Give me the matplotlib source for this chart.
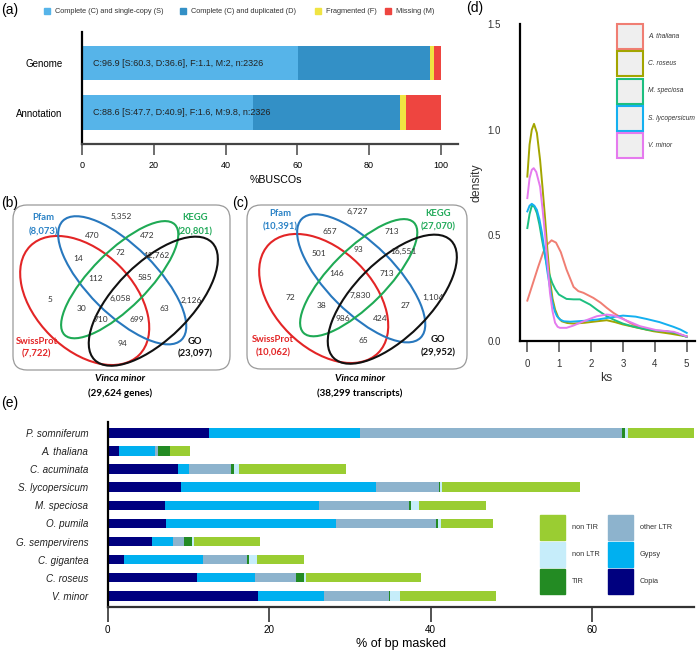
import matplotlib
matplotlib.use("Agg")
import matplotlib.pyplot as plt
from matplotlib.patches import Ellipse, FancyBboxPatch, Rectangle

plt.rcParams['font.family'] = ['Liberation Sans', 'DejaVu Sans']

# ---------------- data ----------------
# (a) BUSCO
busco_rows = ["Genome", "Annotation"]
busco_S = [60.3, 47.7]
busco_D = [36.6, 40.9]
busco_F = [1.1, 1.6]
busco_M = [2.0, 9.8]
busco_text = ["C:96.9 [S:60.3, D:36.6], F:1.1, M:2, n:2326",
              "C:88.6 [S:47.7, D:40.9], F:1.6, M:9.8, n:2326"]
busco_names = ["Complete (C) and single-copy (S)", "Complete (C) and duplicated (D)",
               "Fragmented (F)", "Missing (M)"]
busco_ticks = [0, 20, 40, 60, 80, 100]

# (b),(c) Venn
venn_sets = ["SwissProt", "Pfam", "KEGG", "GO"]
venn_b_totals = ["(7,722)", "(8,073)", "(20,801)", "(23,097)"]
venn_c_totals = ["(10,062)", "(10,391)", "(27,070)", "(29,952)"]
venn_regions = ["none", "P", "K", "SP", "PK", "KG", "SPK", "PKG", "S",
                "SPKG", "SK", "PG", "G", "SKG", "SPG", "SG"]
venn_b_counts = ["5,352", "470", "472", "14", "72", "12,762", "112", "585", "5",
                 "6,058", "30", "63", "2,126", "710", "699", "94"]
venn_c_counts = ["6,727", "657", "713", "501", "93", "16,551", "146", "713", "72",
                 "7,830", "38", "27", "1,104", "986", "424", "65"]
venn_b_title = ["Vinca minor", "(29,624 genes)"]
venn_c_title = ["Vinca minor", "(38,299 transcripts)"]

# (d) ks density
ks_species = ["A. thaliana", "C. roseus", "M. speciosa", "S. lycopersicum", "V. minor"]
ks_x = {
    "A. thaliana": [0, 0.17, 0.34, 0.5, 0.62, 0.76, 0.9, 1.05, 1.23, 1.45, 1.6, 1.76, 2.07, 2.3, 2.49, 2.7, 2.96, 3.25, 3.53, 3.8, 4.05, 4.4, 4.7, 5.0],
    "C. roseus": [0, 0.07, 0.14, 0.21, 0.3, 0.4, 0.48, 0.56, 0.63, 0.71, 0.79, 0.87, 0.97, 1.08, 1.25, 1.45, 1.8, 2.18, 2.49, 2.75, 3.0, 3.5, 3.95, 4.5, 5.0],
    "M. speciosa": [0, 0.07, 0.14, 0.22, 0.3, 0.38, 0.46, 0.54, 0.62, 0.7, 0.78, 0.88, 0.99, 1.23, 1.45, 1.65, 1.97, 2.2, 2.49, 2.75, 3.0, 3.35, 3.74, 4.05, 4.37, 4.7, 5.0],
    "S. lycopersicum": [0, 0.07, 0.14, 0.22, 0.3, 0.38, 0.46, 0.54, 0.62, 0.7, 0.78, 0.86, 0.93, 1.03, 1.14, 1.35, 1.56, 1.85, 2.18, 2.6, 3.0, 3.4, 3.74, 4.15, 4.58, 4.8, 5.0],
    "V. minor": [0, 0.07, 0.14, 0.2, 0.28, 0.4, 0.48, 0.56, 0.64, 0.71, 0.79, 0.87, 0.95, 1.02, 1.23, 1.45, 1.65, 1.9, 2.18, 2.49, 2.7, 2.91, 3.2, 3.53, 4.05, 4.6, 5.0],
}
ks_density = {
    "A. thaliana": [0.19, 0.27, 0.35, 0.42, 0.455, 0.476, 0.465, 0.42, 0.337, 0.255, 0.235, 0.227, 0.203, 0.18, 0.156, 0.132, 0.108, 0.082, 0.061, 0.052, 0.046, 0.042, 0.033, 0.02],
    "C. roseus": [0.778, 0.93, 1.0, 1.028, 0.985, 0.857, 0.72, 0.574, 0.43, 0.29, 0.2, 0.148, 0.11, 0.092, 0.084, 0.081, 0.085, 0.092, 0.097, 0.088, 0.077, 0.06, 0.045, 0.033, 0.02],
    "M. speciosa": [0.534, 0.6, 0.64, 0.635, 0.605, 0.55, 0.479, 0.415, 0.353, 0.31, 0.274, 0.243, 0.219, 0.198, 0.196, 0.196, 0.171, 0.145, 0.116, 0.097, 0.081, 0.066, 0.053, 0.048, 0.045, 0.035, 0.018],
    "S. lycopersicum": [0.613, 0.64, 0.649, 0.64, 0.62, 0.575, 0.51, 0.425, 0.337, 0.26, 0.187, 0.14, 0.116, 0.1, 0.092, 0.09, 0.092, 0.095, 0.1, 0.11, 0.119, 0.114, 0.103, 0.088, 0.066, 0.053, 0.037],
    "V. minor": [0.676, 0.77, 0.81, 0.818, 0.8, 0.73, 0.62, 0.495, 0.355, 0.227, 0.14, 0.085, 0.066, 0.061, 0.061, 0.072, 0.085, 0.1, 0.116, 0.124, 0.12, 0.108, 0.09, 0.069, 0.05, 0.042, 0.02],
}
ks_colors = ["#F07E73", "#A3A500", "#1DBF80", "#14B0F0", "#E57AEE"]

# (e) repeats
te_species = ["P. somniferum", "A. thaliana", "C. acuminata", "S. lycopersicum", "M. speciosa",
              "O. pumila", "G. sempervirens", "C. gigantea", "C. roseus", "V. minor"]
te_classes = ["Copia", "Gypsy", "other LTR", "TIR", "non LTR", "non TIR"]
te_copia = [12.5, 1.4, 8.7, 9.1, 7.1, 7.2, 5.5, 2.0, 11.05, 18.55]
te_gypsy = [18.7, 4.4, 1.4, 24.1, 19.1, 21.1, 2.6, 9.75, 7.2, 8.25]
te_other_ltr = [32.5, 0.4, 5.2, 7.8, 11.1, 12.3, 1.3, 5.5, 5.1, 8.0]
te_tir = [0.3, 1.5, 0.4, 0.2, 0.25, 0.3, 1.1, 0.2, 0.95, 0.2]
te_non_ltr = [0.4, 0.0, 0.5, 0.25, 1.0, 0.35, 0.2, 1.05, 0.2, 1.2]
te_non_tir = [8.2, 2.5, 13.3, 17.05, 8.3, 6.5, 8.2, 5.8, 14.25, 11.9]
te_ticks = [0, 20, 40, 60]

# ---------------- figure ----------------
W, H = 700, 653
fig = plt.figure(figsize=(7, 6.53), dpi=100)


def fax(l, t, r, b):
    return fig.add_axes([l / W, 1 - b / H, (r - l) / W, (b - t) / H])


# ---- (a) ----
busco_cols = ["#56B4E9", "#3390C6", "#F0E442", "#EE4540"]
axa = fax(82.3, 31.7, 458, 144)
left = [0, 0]
for vals, c in zip([busco_S, busco_D, busco_F, busco_M], busco_cols):
    axa.barh(range(2), vals, left=left, height=0.7, color=c, edgecolor='none')
    left = [l + v for l, v in zip(left, vals)]
for i, t in enumerate(busco_text):
    axa.text(3, i, t, va='center', ha='left', fontsize=6.5, color='#222222')
axa.set_ylim(1.63, -0.63)
axa.set_xlim(0, 104.8)
axa.set_yticks(range(2))
axa.set_yticklabels(busco_rows, fontsize=7)
axa.set_xticks(busco_ticks)
axa.tick_params(axis='y', length=0, pad=14)
axa.tick_params(axis='x', length=8, width=1.2, color='#555555', labelsize=6.5, pad=4)
for s in ['top', 'right']:
    axa.spines[s].set_visible(False)
axa.spines['left'].set_linewidth(1.6)
axa.spines['bottom'].set_linewidth(1.6)
axa.spines['bottom'].set_color('#444444')
axa.set_xlabel("%BUSCOs", fontsize=7.7)
axa.xaxis.set_label_coords(0.514, -0.32)
axa.xaxis.label.set_va('center')

# ---- (d) ----
axd = fax(520, 24.3, 695, 340.7)
for sp, c in zip(ks_species, ks_colors):
    axd.plot(ks_x[sp], ks_density[sp], color=c, lw=1.4, solid_joinstyle='round')
axd.set_xlim(-0.23, 5.26)
axd.set_ylim(0, 1.5)
axd.set_xticks([0, 1, 2, 3, 4, 5])
axd.set_yticks([0.0, 0.5, 1.0, 1.5])
axd.set_yticklabels(["0.0", "0.5", "1.0", "1.5"])
axd.tick_params(axis='y', length=0, pad=14, labelsize=7, labelcolor='#333333')
axd.tick_params(axis='x', length=8, width=1.3, color='#666666', labelsize=7, labelcolor='#333333', pad=5)
for s in ['top', 'right']:
    axd.spines[s].set_visible(False)
axd.spines['left'].set_linewidth(1.6)
axd.spines['bottom'].set_linewidth(1.6)
axd.set_ylabel("density", fontsize=8.7, color='#333333')
axd.yaxis.set_label_coords(-0.247, 0.498)
axd.yaxis.label.set_va('center')
axd.set_xlabel("ks", fontsize=8.7, color='#333333')
axd.xaxis.set_label_coords(0.495, -0.118)
axd.xaxis.label.set_va('center')

# ---- (e) ----
te_cols = ["#00007F", "#00B0F0", "#8DB3CD", "#238B23", "#C6EDFA", "#9ACD32"]
axe = fax(107.7, 422, 694, 606.7)
left = [0] * len(te_species)
for vals, c, name in zip([te_copia, te_gypsy, te_other_ltr, te_tir, te_non_ltr, te_non_tir], te_cols, te_classes):
    axe.barh(range(len(te_species)), vals, left=left, height=0.52, color=c, edgecolor='none', label=name)
    left = [l + v for l, v in zip(left, vals)]
axe.set_ylim(len(te_species) - 0.4, -0.6)
axe.set_xlim(0, 72.6)
axe.set_yticks(range(len(te_species)))
axe.set_yticklabels(te_species, fontsize=7.1, style='italic', color='#222222')
axe.set_xticks(te_ticks)
axe.tick_params(axis='y', length=0, pad=14)
axe.tick_params(axis='x', length=11, width=1.3, color='#444444', labelsize=7.1, pad=2)
for s in ['top', 'right']:
    axe.spines[s].set_visible(False)
axe.spines['left'].set_linewidth(1.6)
axe.spines['bottom'].set_linewidth(1.6)
axe.spines['bottom'].set_color('#333333')
axe.set_xlabel("% of bp masked", fontsize=9)
axe.xaxis.set_label_coords(0.501, -0.202)
axe.xaxis.label.set_va('center')

# ---------------- overlay (venn, legends, panel labels) ----------------
ov = fig.add_axes([0, 0, 1, 1], zorder=10)
ov.set_xlim(0, W)
ov.set_ylim(H, 0)
ov.axis('off')
ov.patch.set_alpha(0)

# panel labels
for lab, x, y in [("(a)", 10, 10), ("(b)", 10, 203), ("(c)", 240, 203), ("(d)", 475, 8), ("(e)", 10, 403)]:
    ov.text(x, y, lab, fontsize=10, ha='center', va='center')

# (a) legend
for name, c, xs in zip(busco_names, busco_cols, [47, 183.3, 317.7, 387.7]):
    ov.add_patch(Rectangle((xs - 3, 8), 6, 6, color=c))
    ov.text(xs + 8, 11.2, name, fontsize=5.3, va='center', ha='left', color='#333333')

# (d) legend
for i, (sp, c) in enumerate(zip(ks_species, ks_colors)):
    y0 = 24.3 + i * 27.1
    ov.add_patch(Rectangle((617, y0), 25.5, 25, facecolor='#EFEFEF', edgecolor=c, lw=1.5))
    ov.text(648.5, y0 + 12.5, sp, fontsize=4.8, style='italic', va='center', ha='left', color='#333333')

# (e) legend
leg_order = [("non TIR", 5, 540, 515), ("non LTR", 4, 540, 541.7), ("TIR", 3, 540, 569),
             ("other LTR", 2, 608.3, 515), ("Gypsy", 1, 608.3, 541.7), ("Copia", 0, 608.3, 569)]
for name, k, x0, y0 in leg_order:
    ov.add_patch(Rectangle((x0, y0), 24.5, 25, color=te_cols[k]))
    ov.text(x0 + 31.5, y0 + 12.5, name, fontsize=5.3, va='center', ha='left', color='#333333')

# Venn diagrams
venn_colors = ["#E32526", "#2878BE", "#1FAA55", "#111111"]
venn_text_colors = ["#E32526", "#2A82C6", "#22AA5A", "#111111"]
# ellipse geometry in panel (b) pixel coords: center x, center y, width, height, angle
ell_geom = [(84.7, 300.5, 154, 98, 45), (122.2, 280.3, 168, 68, 45),
            (119.7, 279.7, 156, 56, -45), (153.3, 301.2, 166, 76, -45)]
pos_b = {"none": (121.7, 216), "P": (91.7, 235), "K": (146.7, 235), "SP": (78.3, 258.3),
         "PK": (120, 252.7), "KG": (156.7, 255), "SPK": (96, 278.3), "PKG": (145, 277.3),
         "S": (50, 300), "SPKG": (120, 298.3), "SK": (81.7, 308.3), "PG": (164, 308.3),
         "G": (191.7, 300), "SKG": (100.7, 319), "SPG": (137.3, 319), "SG": (122.7, 343.3)}
pos_c = {"none": (356.7, 211.7), "P": (330, 231.7), "K": (391.7, 231.7), "SP": (319.3, 254),
         "PK": (358.3, 250), "KG": (403.3, 251.7), "SPK": (336.7, 274), "PKG": (386.7, 274),
         "S": (290.7, 297.7), "SPKG": (360, 295), "SK": (321.7, 305), "PG": (406, 305),
         "G": (432.7, 297.7), "SKG": (343.3, 318.3), "SPG": (380, 318.3), "SG": (363.3, 340.7)}
set_lab_b = [(36.7, 341.7, 354), (43.3, 217.3, 231.7), (195, 217.3, 231.7), (195, 341.7, 354)]
set_lab_c = [(273.3, 340, 353.3), (280, 213.3, 226.7), (438.3, 213.3, 227.3), (438.3, 340, 353.3)]

VF = ['Lato', 'DejaVu Sans']


def draw_venn(box, dx, dy, counts, pos, totals, setlab, title, tx):
    l, t, r, b = box
    ov.add_patch(FancyBboxPatch((l, t), r - l, b - t, boxstyle="round,pad=0,rounding_size=14",
                                facecolor='none', edgecolor='#9A9A9A', lw=0.9))
    for (cx, cy, w, h, a), c in zip(ell_geom, venn_colors):
        ov.add_patch(Ellipse((cx + dx, cy + dy), w, h, angle=a, facecolor='none', edgecolor=c, lw=1.5))
    for reg, val in zip(venn_regions, counts):
        x, y = pos[reg]
        ov.text(x, y, val, fontsize=6, ha='center', va='center', color='#333333', family=VF)
    for name, tot, (x, y1, y2), c in zip(venn_sets, totals, setlab, venn_text_colors):
        ov.text(x, y1, name, fontsize=6.8, ha='center', va='center', color=c, weight='bold', family=VF)
        ov.text(x, y2, tot, fontsize=6.8, ha='center', va='center', color=c, weight='bold', family=VF)
    ov.text(tx, 378.5, title[0], fontsize=7.1, ha='center', va='center', weight='bold', style='italic', family=VF)
    ov.text(tx, 393, title[1], fontsize=7.1, ha='center', va='center', weight='bold', family=VF)


draw_venn((13, 205, 230, 370), 0, 0, venn_b_counts, pos_b, venn_b_totals, set_lab_b, venn_b_title, 120)
draw_venn((247, 205, 467, 369), 239, -2, venn_c_counts, pos_c, venn_c_totals, set_lab_c, venn_c_title, 360)

fig.savefig("out.png", dpi=100)
